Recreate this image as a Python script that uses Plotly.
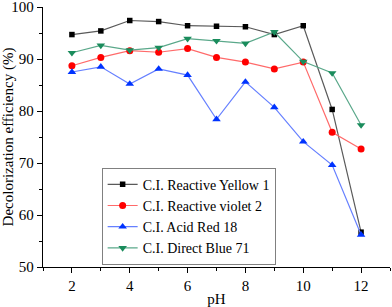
import plotly.graph_objects as go

ph = [2, 3, 4, 5, 6, 7, 8, 9, 10, 11, 12]
yellow1 = [94.7, 95.4, 97.4, 97.2, 96.4, 96.3, 96.2, 94.7, 96.4, 80.3, 56.7]
violet2 = [88.7, 90.3, 91.6, 91.3, 92.0, 90.3, 89.4, 88.1, 89.4, 75.9, 72.7]
acidred18 = [87.5, 88.5, 85.2, 88.1, 86.9, 78.4, 85.6, 80.7, 74.1, 69.6, 56.2]
directblue71 = [91.2, 92.6, 91.7, 92.2, 93.9, 93.5, 93.0, 95.2, 89.5, 87.3, 77.3]

names = ["C.I. Reactive Yellow 1", "C.I. Reactive violet 2", "C.I. Acid Red 18", "C.I. Direct Blue 71"]
series = [yellow1, violet2, acidred18, directblue71]
line_colors = ["#5a5a5a", "#ff6a6a", "#6680ff", "#5aa88a"]
marker_colors = ["#000000", "#ff0000", "#0033ff", "#1a8c5c"]
symbols = ["square", "circle", "triangle-up", "triangle-down"]
sizes = [5.5, 7, 7.5, 7.5]

fig = go.Figure()
for n, s, lc, mc, sym, sz in zip(names, series, line_colors, marker_colors, symbols, sizes):
    fig.add_trace(go.Scatter(
        x=ph, y=s, name=n, mode="lines+markers",
        line=dict(color=lc, width=1.2),
        marker=dict(color=mc, symbol=sym, size=sz, line=dict(width=0)),
    ))

font = "Liberation Serif"
fig.update_layout(
    width=392, height=307,
    margin=dict(l=43, r=2, t=7, b=40),
    paper_bgcolor="white", plot_bgcolor="white",
    font=dict(family=font, color="black", size=14),
    showlegend=True,
    legend=dict(x=0.169, y=0.382, xanchor="left", yanchor="top",
                bordercolor="#808080", borderwidth=1, bgcolor="white",
                font=dict(family=font, size=14, color="black"),
                tracegroupgap=0),
    xaxis=dict(range=[1, 13], tickvals=[2, 4, 6, 8, 10, 12], automargin=False,
               showline=True, linecolor="black", linewidth=1.3,
               ticks="outside", ticklen=5, tickcolor="black", showgrid=False, zeroline=False,
               minor=dict(ticks="outside", ticklen=3, dtick=1, tick0=1, tickcolor="black", showgrid=False),
               tickfont=dict(size=15, family=font), ticklabeloverflow="allow",
               title=dict(text="pH", font=dict(size=15, family=font), standoff=2)),
    yaxis=dict(range=[50, 100], tickvals=[50, 60, 70, 80, 90, 100], automargin=False,
               showline=True, linecolor="black", linewidth=1.3,
               ticks="outside", ticklen=5, tickcolor="black", showgrid=False, zeroline=False,
               minor=dict(ticks="outside", ticklen=3, dtick=5, tick0=50, tickcolor="black", showgrid=False),
               tickfont=dict(size=15, family=font), ticklabeloverflow="allow",
               title=dict(text="Decolorization efficiency (%)", font=dict(size=15, family=font), standoff=2)),
)
fig.write_html("out.html", config={"displayModeBar": False},
               post_script="document.body.style.margin='0';document.body.style.padding='0';")
